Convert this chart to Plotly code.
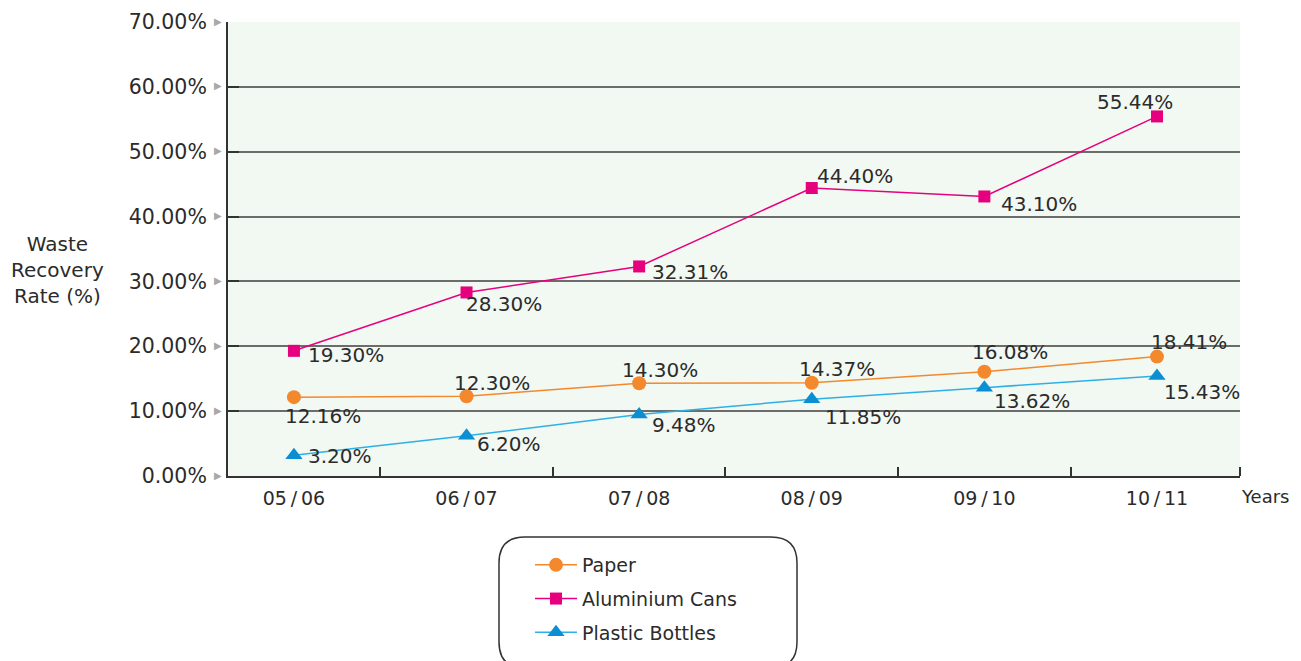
import plotly.graph_objects as go

# ---- data ----
years = ["05/06", "06/07", "07/08", "08/09", "09/10", "10/11"]
paper = [12.16, 12.30, 14.30, 14.37, 16.08, 18.41]
aluminium = [19.30, 28.30, 32.31, 44.40, 43.10, 55.44]
plastic = [3.20, 6.20, 9.48, 11.85, 13.62, 15.43]
y_ticks = [0, 10, 20, 30, 40, 50, 60, 70]

# label offsets (px): left edge dx from point, vertical dy (positive = down)
paper_off = [(-11, 19), (-15, -13), (-19, -13), (-15, -14), (-14, -20), (-8, -15)]
alu_off = [(12, 4), (-3, 12), (11, 6), (3, -12), (15, 8), (-62, -14)]
pla_off = [(12, 1), (8, 8), (11, 10), (11, 18), (8, 13), (5, 16)]

FONT = "DejaVu Sans"
TXT = "#2b2b2b"
ORANGE = "#f3892c"
MAGENTA = "#e6007e"
BLUE_M = "#0a8fd2"
BLUE_L = "#2eb0e6"

XMIN, XMAX = -0.382, 5.481
xs = list(range(len(years)))

fig = go.Figure()
fig.add_trace(go.Scatter(
    x=xs, y=paper, name="Paper", mode="lines+markers", legendgroup="a",
    line=dict(color=ORANGE, width=1.5),
    marker=dict(symbol="circle", size=14, color=ORANGE),
))
fig.add_trace(go.Scatter(
    x=xs, y=aluminium, name="Aluminium Cans", mode="lines+markers", legendgroup="b",
    line=dict(color=MAGENTA, width=1.5),
    marker=dict(symbol="square", size=12, color=MAGENTA),
))
fig.add_trace(go.Scatter(
    x=xs, y=plastic, name="Plastic Bottles", mode="lines+markers", legendgroup="c",
    line=dict(color=BLUE_L, width=1.5),
    marker=dict(symbol="triangle-up", size=15, color=BLUE_M),
))

annotations = []
for vals, offs in ((paper, paper_off), (aluminium, alu_off), (plastic, pla_off)):
    for i, (v, (dx, dy)) in enumerate(zip(vals, offs)):
        annotations.append(dict(
            x=i, y=v, xref="x", yref="y", text=f"{v:.2f}%", showarrow=False,
            xanchor="left", yanchor="middle", xshift=dx, yshift=-dy,
            font=dict(family=FONT, size=20, color=TXT),
        ))

# small grey pointer triangles beside the y tick labels
for v in y_ticks:
    annotations.append(dict(
        x=0, y=v, xref="paper", yref="y", text="▶", showarrow=False,
        xanchor="center", yanchor="middle", xshift=-10, yshift=1,
        font=dict(family=FONT, size=10, color="#a8a8a8"),
    ))

annotations.append(dict(
    x=-0.168, y=0.454, xref="paper", yref="paper",
    text="Waste<br>Recovery<br>Rate (%)", showarrow=False,
    xanchor="center", yanchor="middle", align="center",
    font=dict(family=FONT, size=20, color=TXT),
))
annotations.append(dict(
    x=1.0, y=-0.046, xref="paper", yref="paper", text="Years", showarrow=False,
    xanchor="left", yanchor="middle", xshift=-1, yshift=0,
    font=dict(family=FONT, size=18, color=TXT),
))

# rounded legend frame
x0, x1 = (499 - 228) / 1012, (797 - 228) / 1012
yt, yb = (476 - 537) / 454, (476 - 668) / 454
rx, ry = 26 / 1012, 26 / 454
path = (f"M{x0},{yb + ry} L{x0},{yt - ry} Q{x0},{yt} {x0 + rx},{yt} "
        f"L{x1 - rx},{yt} Q{x1},{yt} {x1},{yt - ry} L{x1},{yb + ry} "
        f"Q{x1},{yb} {x1 - rx},{yb} L{x0 + rx},{yb} Q{x0},{yb} {x0},{yb + ry} Z")

fig.update_layout(
    width=1301, height=661,
    margin=dict(l=220, r=69, t=14, b=193, autoexpand=False),
    paper_bgcolor="white",
    plot_bgcolor="#f2f8f2",
    font=dict(family=FONT, size=19, color=TXT),
    showlegend=True,
    legend=dict(
        x=(530 - 228) / 1012, y=(476 - 546) / 454, xanchor="left", yanchor="top",
        bgcolor="rgba(0,0,0,0)", borderwidth=0, tracegroupgap=6,
        font=dict(family=FONT, size=19, color=TXT), itemwidth=42,
    ),
    shapes=[dict(type="path", path=path, xref="paper", yref="paper",
                 line=dict(color="#333333", width=1.5), layer="above")],
    annotations=annotations,
    xaxis=dict(
        range=[XMIN, XMAX], tickvals=xs,
        ticktext=[y.replace("/", "\u2009/\u2009") for y in years],
        ticks="", showgrid=False, zeroline=False,
        showline=True, linecolor="#333333", linewidth=2,
        tickfont=dict(family=FONT, size=19, color=TXT),
        ticklabelstandoff=4,
        minor=dict(tickvals=[0.5, 1.5, 2.5, 3.5, 4.5, 5.48], ticks="inside",
                   ticklen=9, tickcolor="#333333", tickwidth=1.5, showgrid=False),
    ),
    yaxis=dict(
        range=[0, 70], tickvals=y_ticks,
        ticktext=[f"{v:.2f}%" for v in y_ticks],
        ticks="inside", ticklen=11, tickcolor="#333333", tickwidth=2,
        showgrid=True, gridcolor="#6c6c6c", gridwidth=1.5, zeroline=False,
        showline=True, linecolor="#333333", linewidth=2,
        tickfont=dict(family=FONT, size=20.5, color=TXT),
        ticklabelstandoff=15,
    ),
)

fig.write_html("out.html")
